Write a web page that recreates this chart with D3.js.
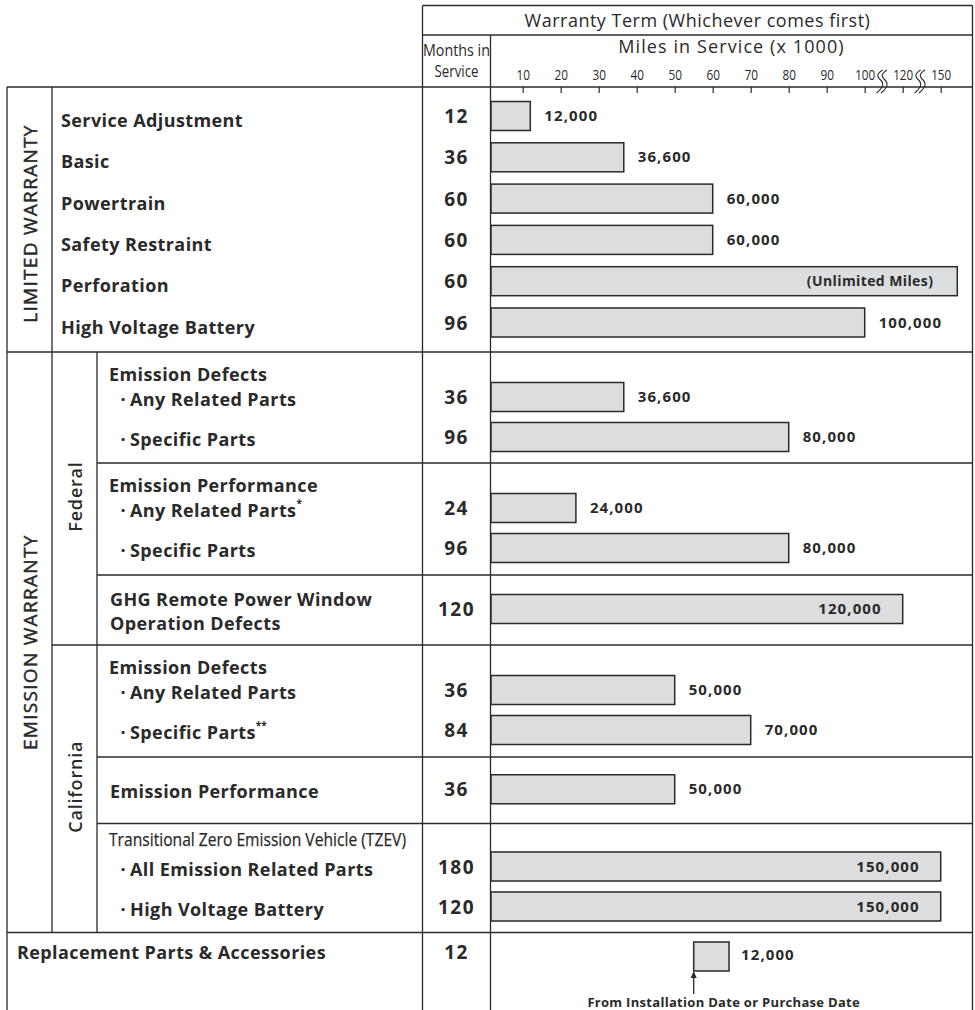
<!DOCTYPE html>
<html><head><meta charset="utf-8">
<script src="https://cdn.jsdelivr.net/npm/d3@7"></script>
<style>body{margin:0;background:#fff} svg{display:block}</style>
</head><body><svg id="c" width="975" height="1010"></svg>
<script>
// ---------------- DATA ----------------
const limitedLabels = ["Service Adjustment","Basic","Powertrain","Safety Restraint","Perforation","High Voltage Battery"];
const limitedMonths = [12,36,60,60,60,96];
const limitedMiles  = [12000,36600,60000,60000,null,100000]; // null = unlimited

const emissionGroups      = ["Federal","California"];
const emissionBlockGroup  = ["Federal","Federal","Federal","California","California","California"];
const emissionBlockTitles = [["Emission Defects"],["Emission Performance"],["GHG Remote Power Window","Operation Defects"],["Emission Defects"],["Emission Performance"],["Transitional Zero Emission Vehicle (TZEV)"]];
const emissionItems  = [["Any Related Parts","Specific Parts"],["Any Related Parts*","Specific Parts"],[null],["Any Related Parts","Specific Parts**"],[null],["All Emission Related Parts","High Voltage Battery"]];
const emissionMonths = [[36,96],[24,96],[120],[36,84],[36],[180,120]];
const emissionMiles  = [[36600,80000],[24000,80000],[120000],[50000,70000],[50000],[150000,150000]];

const replacementLabel  = "Replacement Parts & Accessories";
const replacementMonths = 12;
const replacementMiles  = 12000;
const replacementNote   = "From Installation Date or Purchase Date";

const milesTicks = [10,20,30,40,50,60,70,80,90,100,120,150];
const headerTitle = "Warranty Term (Whichever comes first)";
const milesTitle  = "Miles in Service (x 1000)";
const monthsTitle = ["Months in","Service"];
const sectionLabels = ["LIMITED WARRANTY","EMISSION WARRANTY"];

// ---------------- LAYOUT ----------------
const ink = "#2a2a2a", barFill = "#dcdddf";
const F = "'Open Sans', 'DejaVu Sans', sans-serif";
const FN = "'Open Sans', sans-serif";
const L = {left:7, col1:52, col2:97, monthsL:422.5, monthsR:490.5, right:972.5,
           top:5.5, titleLine:35, headerBottom:87, bottom:1012};
const limitedBottom = 352;
const blockTops = [352, 463, 575, 645, 757, 823.5];
const replacementTop = 932.5;
const barH = 29;
const labelSize = 18, labelLS = 0.4, valSize = 15, valLS = 1.1;

const svg = d3.select("#c");
const gLines = svg.append("g");
const gBars = svg.append("g");
const gText = svg.append("g");

// miles scale (thousands) with broken axis above 100
const x = d3.scaleLinear()
  .domain([0,100,120,150,163])
  .range([484.7,864.7,902.7,940.7,957.3]);
const xMaxDomain = x.domain()[x.domain().length-1];
const barStart = L.monthsR + 0.5;

// ---------------- GRID LINES ----------------
function hline(y,x1,x2){gLines.append("line").attr("x1",x1).attr("x2",x2).attr("y1",y).attr("y2",y).attr("stroke",ink).attr("stroke-width",1.3);}
function vline(xp,y1,y2){gLines.append("line").attr("x1",xp).attr("x2",xp).attr("y1",y1).attr("y2",y2).attr("stroke",ink).attr("stroke-width",1.3);}
hline(L.top, L.monthsL, L.right);
hline(L.titleLine, L.monthsL, L.right);
hline(L.headerBottom, L.left, L.right);
hline(limitedBottom, L.left, L.right);
blockTops.forEach((t,i)=>{ if(i>0){ const from = emissionBlockGroup[i]!==emissionBlockGroup[i-1] ? L.col1 : L.col2; hline(t, from, L.right);} });
hline(replacementTop, L.left, L.right);
vline(L.left, L.headerBottom, L.bottom);
vline(L.col1, L.headerBottom, replacementTop);
vline(L.col2, limitedBottom, replacementTop);
vline(L.monthsL, L.top, L.bottom);
vline(L.monthsR, L.titleLine, L.bottom);
vline(L.right, L.top, L.bottom);

// ---------------- HEADER ----------------
gText.append("text").attr("x",(L.monthsL+L.right)/2).attr("y",20).attr("text-anchor","middle")
  .attr("dominant-baseline","central").attr("font-family",F).attr("font-size",18).attr("letter-spacing",0.5).attr("fill",ink).text(headerTitle);
gText.append("text").attr("x",(L.monthsR+L.right)/2).attr("y",46).attr("text-anchor","middle")
  .attr("dominant-baseline","central").attr("font-family",F).attr("font-size",18).attr("letter-spacing",1.1).attr("fill",ink).text(milesTitle);
monthsTitle.forEach((t,i)=>{
  gText.append("text").attr("x",(L.monthsL+L.monthsR)/2).attr("y",49+i*21).attr("text-anchor","middle")
    .attr("dominant-baseline","central").attr("font-family",FN).attr("font-size",17).attr("fill",ink)
    .attr("textLength", i===0?67:44).attr("lengthAdjust","spacingAndGlyphs").text(t);
});

// axis
const axis = d3.axisTop(x).tickValues(milesTicks).tickSizeInner(-6).tickSizeOuter(0).tickPadding(7);
const gAxis = svg.append("g").attr("transform",`translate(0,${L.headerBottom})`).call(axis);
gAxis.select(".domain").remove();
gAxis.selectAll(".tick line").attr("stroke",ink).attr("stroke-width",1.2);
gAxis.selectAll(".tick text").attr("font-family",FN).attr("font-size",14).attr("fill",ink)
  .attr("textLength",function(d){return d>=100?20:13.5;}).attr("lengthAdjust","spacingAndGlyphs");

// axis break marks between 100-120 and 120-150
[[100,120],[120,150]].forEach(([a,b])=>{
  const xm = x(a) + (x(b)-x(a))*0.45;
  [-2.2,2.2].forEach(off=>{
    const cx = xm+off;
    gLines.append("path")
      .attr("d",`M${cx+3},70 C${cx-3},74 ${cx-3},76 ${cx+1},80 C${cx+5},84 ${cx+3},88 ${cx-3},93`)
      .attr("fill","none").attr("stroke",ink).attr("stroke-width",1.1);
  });
});

// ---------------- ROWS ----------------
const rows = [];
limitedLabels.forEach((lab,i)=>{
  rows.push({label:lab, months:limitedMonths[i], miles:limitedMiles[i], y:L.headerBottom+29+i*41.3, lx:61, ly:4, bullet:false});
});
emissionBlockTitles.forEach((title,b)=>{
  const top = blockTops[b];
  const bottom = b<blockTops.length-1 ? blockTops[b+1] : replacementTop;
  const items = emissionItems[b];
  if(items[0]===null){
    const cy = (top+bottom)/2;
    title.forEach((t,k)=>{
      gText.append("text").attr("x",110).attr("y",cy + (k-(title.length-1)/2)*24.7 + 1)
        .attr("dominant-baseline","central").attr("font-family",F).attr("font-weight",700)
        .attr("font-size",labelSize).attr("letter-spacing",labelLS).attr("fill",ink).text(t);
    });
    rows.push({label:null, months:emissionMonths[b][0], miles:emissionMiles[b][0], y:cy-1});
  } else {
    const tz = title[0].startsWith("Transitional");
    const h = gText.append("text").attr("x",109).attr("y",top+(tz?15:22))
      .attr("dominant-baseline","central").attr("fill",ink).text(title[0]);
    if(tz){ h.attr("font-family",FN).attr("font-size",18.5).attr("stroke",ink).attr("stroke-width",0.25)
              .attr("textLength",297).attr("lengthAdjust","spacingAndGlyphs"); }
    else { h.attr("font-family",F).attr("font-weight",700).attr("font-size",labelSize).attr("letter-spacing",labelLS); }
    items.forEach((it,i)=>{
      rows.push({label:it, months:emissionMonths[b][i], miles:emissionMiles[b][i], y:top+(tz?43:45)+i*40, lx:130, ly:2, bullet:true});
    });
  }
});

// row labels
rows.filter(r=>r.label).forEach(r=>{
  const m = r.label.match(/^(.*?)(\**)$/);
  const t = gText.append("text").attr("y",r.y+r.ly).attr("dominant-baseline","central")
    .attr("font-family",F).attr("font-weight",700).attr("font-size",labelSize).attr("letter-spacing",labelLS).attr("fill",ink);
  if(r.bullet) t.append("tspan").attr("x",r.lx-9.5).text("·");
  t.append("tspan").attr("x",r.lx).text(m[1]);
  if(m[2]) t.append("tspan").attr("font-size",10).attr("letter-spacing",0).attr("dy",-7).text(m[2]);
});

// months
const allMonths = rows.map(r=>({m:r.months,y:r.y}));
gText.selectAll("text.months").data(allMonths).join("text").attr("class","months")
  .attr("x",(L.monthsL+L.monthsR)/2).attr("y",d=>d.y).attr("text-anchor","middle")
  .attr("dominant-baseline","central").attr("font-family",F).attr("font-weight",700)
  .attr("font-size",19).attr("letter-spacing",1.5).attr("fill",ink).text(d=>d.m);

// bars
const barEnd = d => x(d.miles===null ? xMaxDomain : d.miles/1000);
gBars.selectAll("rect.bar").data(rows).join("rect").attr("class","bar")
  .attr("x",d=>Math.max(x(0),barStart)).attr("y",d=>d.y-barH/2)
  .attr("width",d=>barEnd(d)-Math.max(x(0),barStart)).attr("height",barH)
  .attr("fill",barFill).attr("stroke",ink).attr("stroke-width",1.5);

const fmt = d3.format(",");
const inside = d => d.miles===null || d.miles>=120000;
gText.selectAll("text.val").data(rows).join("text").attr("class","val")
  .attr("x",d=> inside(d) ? barEnd(d)-(d.miles===null?24:21) : barEnd(d)+14)
  .attr("y",d=>d.y-1).attr("text-anchor",d=>inside(d)?"end":"start")
  .attr("dominant-baseline","central").attr("font-family",F).attr("font-weight",700)
  .attr("font-size",d=>d.miles===null?14:valSize).attr("letter-spacing",d=>d.miles===null?0.4:valLS).attr("fill",ink)
  .text(d=> d.miles===null ? "(Unlimited Miles)" : fmt(d.miles));

// ---------------- REPLACEMENT ----------------
const replY = replacementTop + 23.5;
const replFrom = 55, replTo = 64.3; // box position along miles axis (schematic)
gText.append("text").attr("x",17).attr("y",replY-4).attr("dominant-baseline","central")
  .attr("font-family",F).attr("font-weight",700).attr("font-size",labelSize).attr("letter-spacing",labelLS).attr("fill",ink).text(replacementLabel);
gText.append("text").attr("x",(L.monthsL+L.monthsR)/2).attr("y",replY-4).attr("text-anchor","middle")
  .attr("dominant-baseline","central").attr("font-family",F).attr("font-weight",700).attr("font-size",19)
  .attr("letter-spacing",1.5).attr("fill",ink).text(replacementMonths);
gBars.append("rect").attr("x",x(replFrom)).attr("y",replY-barH/2+0.5).attr("width",x(replTo)-x(replFrom)).attr("height",barH)
  .attr("fill",barFill).attr("stroke",ink).attr("stroke-width",1.5);
gText.append("text").attr("x",x(replTo)+12).attr("y",replY-2).attr("dominant-baseline","central")
  .attr("font-family",F).attr("font-weight",700).attr("font-size",valSize).attr("letter-spacing",valLS).attr("fill",ink)
  .text(fmt(replacementMiles));
const ax = x(replFrom), ay = replY+barH/2+0.5;
gLines.append("line").attr("x1",ax).attr("x2",ax).attr("y1",ay+3).attr("y2",ay+23).attr("stroke",ink).attr("stroke-width",1.3);
gLines.append("path").attr("d",`M${ax},${ay} L${ax-3},${ay+7} L${ax+3},${ay+7} Z`).attr("fill",ink);
gText.append("text").attr("x",x(replFrom)+30).attr("y",1002).attr("text-anchor","middle").attr("dominant-baseline","central")
  .attr("font-family",F).attr("font-weight",700).attr("font-size",13).attr("letter-spacing",0.3).attr("fill",ink).text(replacementNote);

// ---------------- ROTATED SECTION LABELS ----------------
function vtext(t,cx,cy,weight,size,ls,sw){
  gText.append("text").attr("transform",`translate(${cx},${cy}) rotate(-90)`).attr("text-anchor","middle")
    .attr("dominant-baseline","central").attr("font-family",F).attr("font-weight",weight)
    .attr("font-size",size).attr("letter-spacing",ls).attr("fill",ink)
    .attr("stroke",sw?ink:null).attr("stroke-width",sw||null).text(t);
}
vtext(sectionLabels[0], (L.left+L.col1)/2, (L.headerBottom+limitedBottom)/2 + 4, 400, 19, 1.3, 0.5);
vtext(sectionLabels[1], (L.left+L.col1)/2, (limitedBottom+replacementTop)/2, 400, 19, 1.3, 0.5);
emissionGroups.forEach(g=>{
  const idx = emissionBlockGroup.map((v,i)=>v===g?i:-1).filter(i=>i>=0);
  const top = blockTops[idx[0]];
  const last = idx[idx.length-1];
  const bottom = last<blockTops.length-1 ? blockTops[last+1] : replacementTop;
  vtext(g, (L.col1+L.col2)/2, (top+bottom)/2 - 2, 600, 18, 0.8, 0);
});
</script></body></html>
